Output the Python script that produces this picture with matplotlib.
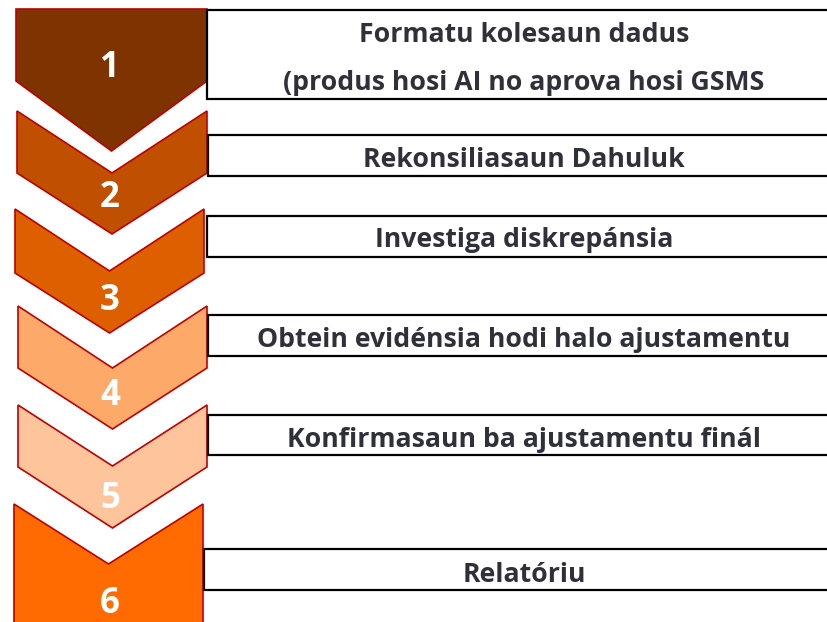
import matplotlib.pyplot as plt
from matplotlib.patches import Polygon, Rectangle

# steps of the process
step_numbers = ["1", "2", "3", "4", "5", "6"]
step_labels = [
    "Formatu kolesaun dadus\n(produs hosi AI no aprova hosi GSMS",
    "Rekonsiliasaun Dahuluk",
    "Investiga diskrepánsia",
    "Obtein evidénsia hodi halo ajustamentu",
    "Konfirmasaun ba ajustamentu finál",
    "Relatóriu",
]

# layout (pixels, y downwards)
chev_left = [16, 17, 15, 18, 18, 14]
chev_right = [207, 207, 204, 207, 207, 203]
chev_top = [9, 111, 209, 306, 405, 504]
chev_notch = [0, 62, 62, 62, 61, 60]
chev_side = [72, 62, 64, 62, 62, 130]
chev_tip = [70, 61, 60, 61, 61, 61]
num_base = [77, 207, 310, 405, 508, 613]

box_left = [207, 208, 207, 208, 208, 204]
box_top = [10, 135, 216, 315, 415, 549]
box_bottom = [99, 176, 257, 356, 455, 590]
text_base = [[42, 90], [167], [247], [347], [447], [582]]

fill_colors = ["#7f3300", "#c05000", "#dd5f00", "#fca96a", "#fec59c", "#ff6b00"]
edge_color = "#c00000"
text_color = "#30303a"

plt.rcParams['font.family'] = ['Open Sans', 'DejaVu Sans']

fig = plt.figure(figsize=(8.28, 6.22), dpi=100)
ax = fig.add_axes([0, 0, 1, 1])
ax.set_xlim(0, 828)
ax.set_ylim(622, 0)
ax.axis('off')

for i in range(len(step_numbers)):
    l, r, t = chev_left[i], chev_right[i], chev_top[i]
    m = (l + r) / 2
    sb = t + chev_side[i]
    pts = [(l, t), (m, t + chev_notch[i]), (r, t), (r, sb), (m, sb + chev_tip[i]), (l, sb)]
    ax.add_patch(Polygon(pts, closed=True, facecolor=fill_colors[i],
                         edgecolor=edge_color, linewidth=1.2))
    ax.text(110, num_base[i], step_numbers[i], color="white", fontsize=25,
            fontweight='bold', ha='center', va='baseline')

    ax.add_patch(Rectangle((box_left[i], box_top[i]), 900 - box_left[i],
                           box_bottom[i] - box_top[i], facecolor="white",
                           edgecolor="black", linewidth=1.6))
    for line, yb in zip(step_labels[i].split("\n"), text_base[i]):
        ax.text(524, yb, line, color=text_color, fontsize=19.2,
                fontweight='bold', ha='center', va='baseline')

fig.savefig("out.png", dpi=100)
